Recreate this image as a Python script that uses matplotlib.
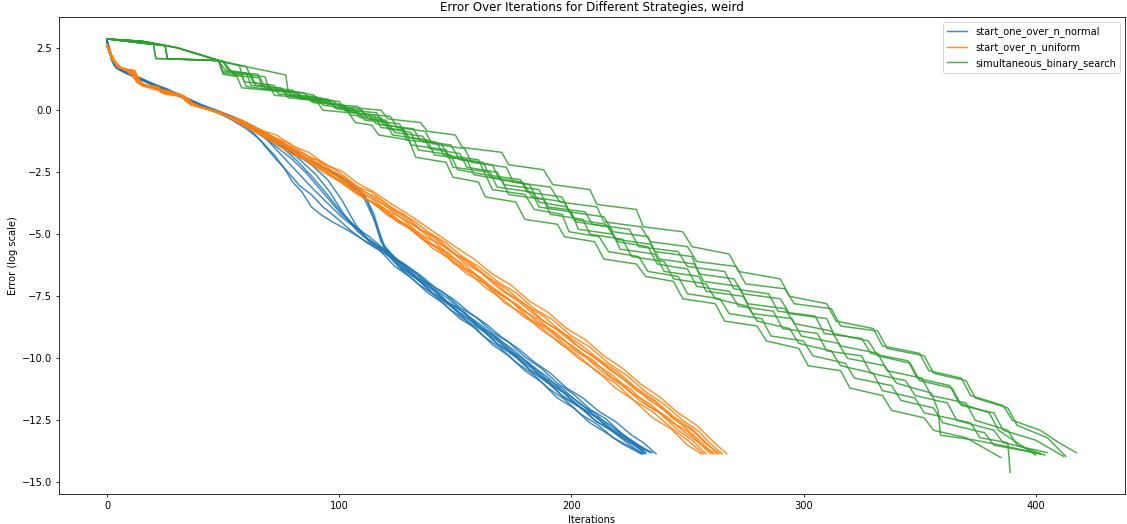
import matplotlib.pyplot as plt

# (iteration, error) pairs for each run
normal_runs = [
    [(0,2.8),(1,2.4),(2,2.0),(4,1.7),(8,1.5),(13,1.3),(19,1.05),(26,0.8),(33,0.5),(40,0.2),(47,-0.05),(53,-0.35),(60,-0.75),(66,-1.2),(72,-1.8),(76,-2.3),(80,-2.9),(84,-3.3),(88,-3.9),(92,-4.2),(97,-4.5),(103,-4.8),(110,-5.2),(117,-5.6),(124,-6.3),(131,-6.75),(138,-7.35),(145,-7.8),(152,-8.4),(159,-8.8),(166,-9.45),(173,-9.9),(180,-10.5),(187,-10.95),(194,-11.6),(201,-12.0),(208,-12.6),(215,-13.0),(222,-13.45),(230,-13.85)],
    [(0,2.8),(1,2.5),(2,2.1),(3,1.8),(6,1.6),(11,1.4),(17,1.15),(24,0.85),(31,0.6),(38,0.3),(45,0.0),(52,-0.25),(59,-0.6),(64,-1.0),(68,-1.45),(73,-2.0),(78,-2.5),(83,-3.05),(88,-3.4),(93,-3.9),(99,-4.35),(105,-4.85),(112,-5.35),(119,-5.75),(126,-6.15),(133,-6.6),(140,-7.15),(147,-7.6),(154,-8.2),(161,-8.65),(168,-9.2),(175,-9.65),(182,-10.25),(189,-10.7),(196,-11.3),(203,-11.75),(210,-12.3),(217,-12.7),(224,-13.2),(233.5,-13.75)],
    [(0,2.75),(1,2.4),(3,1.9),(5,1.65),(9,1.45),(14,1.25),(20,1.0),(27,0.75),(34,0.45),(41,0.15),(48,-0.1),(55,-0.4),(62,-0.75),(70,-1.15),(76,-1.55),(82,-2.05),(88,-2.65),(94,-3.3),(100,-4.0),(106,-4.6),(112,-5.15),(119,-5.6),(126,-6.3),(133,-6.7),(140,-7.35),(147,-7.75),(154,-8.35),(161,-8.75),(168,-9.4),(175,-9.8),(182,-10.45),(189,-10.85),(196,-11.5),(203,-11.9),(210,-12.5),(217,-12.9),(224,-13.4),(230.5,-13.85)],
    [(0,2.8),(1,2.45),(2,2.05),(5,1.7),(9,1.5),(15,1.25),(21,1.0),(28,0.72),(35,0.42),(42,0.12),(49,-0.12),(57,-0.45),(64,-0.8),(70,-1.1),(75,-1.4),(82,-1.9),(90,-2.6),(96,-3.3),(102,-4.2),(108,-4.9),(114,-5.35),(121,-5.8),(128,-6.2),(135,-6.65),(142,-7.2),(149,-7.6),(156,-8.15),(163,-8.6),(170,-9.15),(177,-9.6),(184,-10.15),(191,-10.6),(198,-11.2),(205,-11.6),(212,-12.15),(219,-12.55),(226,-13.1),(231,-13.4),(236.5,-13.85)],
    [(0,2.8),(1,2.35),(3,1.95),(6,1.65),(10,1.45),(16,1.2),(23,0.9),(30,0.6),(37,0.35),(44,0.05),(51,-0.2),(58,-0.5),(65,-0.85),(72,-1.25),(80,-1.7),(88,-2.2),(95,-2.8),(101,-3.6),(107,-4.6),(113,-5.3),(120,-5.7),(127,-6.3),(134,-6.85),(141,-7.3),(148,-7.9),(155,-8.35),(162,-8.9),(169,-9.35),(176,-9.95),(183,-10.4),(190,-11.0),(197,-11.4),(204,-12.0),(211,-12.4),(218,-12.95),(225,-13.35),(231,-13.8)],
    [(0,2.8),(1,2.5),(2,2.15),(4,1.8),(8,1.55),(13,1.35),(19,1.1),(26,0.85),(33,0.55),(40,0.25),(47,0.0),(54,-0.25),(61,-0.55),(68,-0.9),(75,-1.3),(82,-1.75),(90,-2.15),(97,-2.5),(103,-2.85),(108,-3.2),(112,-3.6),(115,-4.4),(118,-5.3),(124,-5.95),(131,-6.4),(138,-6.95),(145,-7.35),(152,-7.95),(159,-8.35),(166,-8.95),(173,-9.35),(180,-9.95),(187,-10.4),(194,-11.0),(201,-11.45),(208,-12.05),(215,-12.45),(222,-13.05),(228,-13.45),(232,-13.8)],
    [(0,2.75),(1,2.4),(3,2.0),(5,1.75),(9,1.5),(14,1.3),(20,1.05),(27,0.8),(34,0.5),(41,0.2),(48,-0.05),(55,-0.3),(62,-0.6),(70,-1.0),(78,-1.45),(86,-1.95),(94,-2.35),(101,-2.7),(106,-3.0),(111,-3.45),(115,-4.2),(119,-5.5),(125,-6.05),(132,-6.65),(139,-7.1),(146,-7.7),(153,-8.1),(160,-8.7),(167,-9.15),(174,-9.75),(181,-10.2),(188,-10.8),(195,-11.25),(202,-11.85),(209,-12.25),(216,-12.8),(223,-13.2),(229,-13.55),(234,-13.8)],
    [(0,2.8),(1,2.45),(2,2.0),(4,1.75),(7,1.55),(12,1.35),(18,1.1),(25,0.82),(32,0.52),(39,0.22),(46,-0.02),(53,-0.3),(60,-0.65),(67,-1.0),(74,-1.35),(81,-1.7),(89,-2.1),(96,-2.45),(102,-2.8),(107,-3.2),(111,-3.6),(116,-4.6),(120,-5.6),(126,-6.1),(133,-6.7),(140,-7.15),(147,-7.75),(154,-8.15),(161,-8.75),(168,-9.15),(175,-9.75),(182,-10.2),(189,-10.8),(196,-11.2),(203,-11.8),(210,-12.2),(217,-12.8),(224,-13.2),(232,-13.85)],
    [(0,2.8),(1,2.4),(2,2.05),(4,1.7),(8,1.5),(13,1.3),(19,1.05),(26,0.78),(33,0.48),(40,0.18),(47,-0.08),(54,-0.38),(61,-0.7),(68,-1.1),(74,-1.55),(80,-2.0),(86,-2.55),(91,-3.1),(96,-3.65),(101,-4.2),(107,-4.7),(113,-5.1),(120,-5.65),(127,-6.4),(134,-6.85),(141,-7.45),(148,-7.9),(155,-8.5),(162,-8.9),(169,-9.5),(176,-9.95),(183,-10.55),(190,-11.0),(197,-11.6),(204,-12.0),(211,-12.55),(218,-12.95),(225,-13.4),(230,-13.6),(235,-13.8)],
    [(0,2.8),(1,2.45),(3,1.95),(6,1.65),(10,1.45),(15,1.25),(21,1.0),(28,0.7),(35,0.4),(42,0.1),(49,-0.15),(56,-0.45),(63,-0.8),(69,-1.2),(74,-1.7),(79,-2.2),(84,-2.7),(89,-3.2),(95,-3.75),(101,-4.3),(107,-4.75),(113,-5.25),(120,-5.75),(127,-6.45),(134,-7.0),(141,-7.45),(148,-8.05),(155,-8.5),(162,-9.1),(169,-9.55),(176,-10.15),(183,-10.6),(190,-11.2),(197,-11.65),(204,-12.25),(211,-12.65),(218,-13.2),(224,-13.5),(231,-13.85)],
]

uniform_runs = [
    [(0,2.6),(1,2.3),(3,1.95),(5,1.7),(10,1.62),(12,1.25),(15,1.0),(21,0.95),(23,0.72),(29,0.68),(34,0.5),(37,0.22),(44,0.05),(51,-0.2),(60,-0.65),(68,-1.05),(74,-1.3),(82,-1.8),(88,-2.05),(96,-2.6),(103,-2.95),(110,-3.5),(117,-3.85),(125,-4.5),(132,-4.85),(140,-5.55),(147,-5.95),(155,-6.6),(163,-7.0),(171,-7.75),(179,-8.2),(187,-8.85),(195,-9.35),(203,-10.0),(211,-10.5),(219,-11.2),(227,-11.7),(235,-12.4),(243,-12.85),(250,-13.5),(256,-13.85)],
    [(0,2.55),(1,2.35),(3,2.0),(6,1.7),(9,1.55),(11,1.4),(13,1.1),(18,0.95),(22,0.9),(24,0.7),(31,0.65),(35,0.35),(40,0.15),(47,-0.05),(55,-0.35),(58,-0.45),(65,-0.75),(72,-1.1),(79,-1.35),(86,-1.85),(93,-2.1),(100,-2.5),(107,-3.05),(114,-3.3),(121,-3.85),(128,-4.2),(135,-4.8),(142,-5.15),(150,-5.8),(157,-6.25),(165,-6.8),(172,-7.35),(180,-7.8),(188,-8.5),(196,-8.95),(204,-9.6),(212,-10.1),(220,-10.65),(228,-11.3),(236,-11.75),(244,-12.45),(252,-12.9),(258,-13.45),(264,-13.85)],
    [(0,2.6),(1,2.45),(2,2.1),(4,1.85),(7,1.65),(12,1.6),(14,1.2),(16,1.0),(19,0.85),(24,0.8),(26,0.62),(33,0.58),(36,0.3),(41,0.1),(49,-0.1),(57,-0.5),(64,-0.85),(71,-1.15),(78,-1.55),(85,-1.9),(92,-2.35),(99,-2.65),(106,-3.2),(113,-3.5),(120,-4.0),(127,-4.35),(134,-4.95),(141,-5.3),(148,-5.9),(155,-6.3),(162,-6.9),(170,-7.4),(178,-8.0),(186,-8.45),(194,-9.1),(202,-9.6),(210,-10.2),(218,-10.7),(226,-11.4),(234,-11.85),(242,-12.5),(250,-12.95),(256,-13.5),(262,-13.85)],
    [(0,2.65),(1,2.4),(2,2.2),(4,1.9),(6,1.7),(8,1.65),(10,1.45),(12,1.3),(14,1.05),(17,0.95),(21,0.92),(23,0.75),(27,0.72),(32,0.62),(34,0.35),(39,0.15),(45,0.0),(52,-0.25),(60,-0.7),(67,-1.0),(74,-1.45),(81,-1.7),(88,-2.2),(95,-2.5),(102,-3.0),(109,-3.4),(116,-3.85),(123,-4.3),(130,-4.75),(137,-5.25),(144,-5.65),(151,-6.2),(158,-6.6),(166,-7.25),(174,-7.7),(182,-8.4),(190,-8.85),(198,-9.5),(206,-9.95),(214,-10.6),(222,-11.1),(230,-11.75),(238,-12.2),(246,-12.9),(252,-13.3),(258,-13.85)],
    [(0,2.6),(1,2.3),(2,2.05),(5,1.75),(8,1.6),(12,1.55),(13,1.15),(17,1.0),(22,0.95),(24,0.68),(30,0.62),(35,0.45),(38,0.18),(44,0.0),(50,-0.15),(58,-0.4),(66,-0.8),(73,-1.0),(80,-1.45),(87,-1.7),(94,-2.2),(101,-2.45),(108,-2.95),(115,-3.3),(122,-3.75),(129,-4.15),(136,-4.6),(143,-5.05),(150,-5.5),(158,-6.0),(166,-6.6),(174,-7.05),(182,-7.7),(190,-8.15),(198,-8.8),(206,-9.25),(214,-9.9),(222,-10.4),(230,-11.05),(238,-11.55),(246,-12.2),(254,-12.7),(261,-13.35),(267,-13.85)],
    [(0,2.55),(1,2.35),(3,2.0),(5,1.75),(9,1.62),(11,1.5),(13,1.2),(15,0.98),(20,0.92),(22,0.8),(28,0.75),(32,0.52),(35,0.3),(41,0.1),(48,-0.1),(56,-0.45),(63,-0.8),(70,-1.2),(77,-1.45),(84,-1.95),(91,-2.25),(98,-2.75),(105,-3.1),(112,-3.6),(119,-3.95),(126,-4.45),(133,-4.85),(140,-5.4),(147,-5.75),(154,-6.35),(161,-6.75),(169,-7.4),(177,-7.85),(185,-8.5),(193,-8.95),(201,-9.6),(209,-10.05),(217,-10.75),(225,-11.2),(233,-11.9),(241,-12.35),(249,-13.0),(255,-13.4),(260,-13.85)],
    [(0,2.6),(1,2.4),(2,2.15),(4,1.85),(6,1.68),(10,1.62),(11,1.35),(14,1.1),(16,0.95),(22,0.92),(25,0.7),(30,0.65),(33,0.5),(36,0.2),(43,0.05),(50,-0.2),(57,-0.4),(64,-0.8),(71,-1.05),(78,-1.5),(85,-1.75),(92,-2.25),(99,-2.55),(106,-3.05),(113,-3.4),(120,-3.85),(127,-4.25),(134,-4.75),(141,-5.15),(148,-5.7),(156,-6.1),(164,-6.75),(172,-7.2),(180,-7.85),(188,-8.3),(196,-8.95),(204,-9.45),(212,-10.05),(220,-10.55),(228,-11.2),(236,-11.7),(244,-12.35),(252,-12.85),(258,-13.4),(263,-13.85)],
    [(0,2.6),(1,2.35),(2,2.1),(4,1.8),(7,1.65),(11,1.62),(13,1.25),(16,1.0),(20,0.9),(23,0.85),(25,0.65),(31,0.62),(34,0.4),(37,0.25),(42,0.08),(49,-0.12),(58,-0.55),(65,-0.95),(72,-1.3),(79,-1.75),(86,-2.0),(93,-2.5),(100,-2.85),(107,-3.35),(114,-3.7),(121,-4.25),(128,-4.6),(135,-5.15),(142,-5.55),(149,-6.15),(156,-6.55),(163,-7.15),(171,-7.65),(179,-8.3),(187,-8.75),(195,-9.4),(203,-9.9),(211,-10.55),(219,-11.0),(227,-11.7),(235,-12.15),(243,-12.8),(250,-13.3),(257,-13.85)],
    [(0,2.65),(1,2.45),(2,2.2),(4,1.85),(6,1.7),(9,1.58),(12,1.45),(14,1.1),(18,0.98),(21,0.85),(26,0.78),(28,0.6),(33,0.55),(36,0.28),(42,0.08),(49,-0.1),(56,-0.4),(63,-0.7),(70,-1.1),(77,-1.4),(84,-1.85),(91,-2.15),(98,-2.6),(105,-3.0),(112,-3.45),(119,-3.8),(126,-4.3),(133,-4.7),(140,-5.2),(147,-5.6),(154,-6.15),(161,-6.55),(169,-7.2),(177,-7.7),(185,-8.3),(193,-8.8),(201,-9.4),(209,-9.9),(217,-10.5),(225,-11.0),(233,-11.65),(241,-12.15),(249,-12.8),(255,-13.3),(261,-13.85)],
    [(0,2.6),(1,2.3),(3,1.95),(5,1.72),(8,1.62),(11,1.58),(12,1.3),(15,1.05),(20,0.95),(22,0.82),(26,0.78),(29,0.68),(33,0.6),(35,0.38),(40,0.12),(47,-0.05),(55,-0.35),(62,-0.65),(69,-1.0),(76,-1.3),(83,-1.7),(90,-2.0),(97,-2.45),(104,-2.8),(111,-3.3),(118,-3.6),(125,-4.1),(132,-4.45),(139,-4.95),(146,-5.35),(153,-5.9),(160,-6.3),(168,-6.9),(176,-7.35),(184,-8.0),(192,-8.45),(200,-9.1),(208,-9.55),(216,-10.2),(224,-10.7),(232,-11.35),(240,-11.85),(248,-12.5),(255,-12.95),(260,-13.45),(265,-13.85)],
]

binary_runs = [
    [(0,2.87),(15,2.78),(30,2.52),(50,1.95),(77,1.42),(78,0.75),(89,0.62),(91,0.35),(103,0.15),(105,-0.1),(113,-0.2),(116,-0.55),(127,-0.7),(130,-1.1),(142,-1.3),(145,-1.8),(160,-2.0),(163,-2.6),(178,-2.8),(181,-3.3),(196,-3.5),(199,-4.1),(214,-4.3),(218,-4.9),(233,-5.1),(236,-5.7),(252,-5.9),(255,-6.6),(270,-6.8),(274,-7.4),(290,-7.6),(294,-8.2),(310,-8.4),(313,-9.0),(328,-9.3),(332,-9.9),(346,-10.2),(350,-10.9),(364,-11.2),(368,-11.9),(382,-12.2),(386,-12.9),(400,-13.3),(412,-13.95)],
    [(0,2.87),(20,2.65),(21,2.08),(36,2.05),(50,1.98),(52,1.6),(62,1.45),(64,1.0),(80,0.8),(84,0.5),(97,0.4),(100,0.15),(118,0.0),(121,-0.35),(135,-0.5),(138,-0.85),(150,-1.0),(153,-1.5),(170,-1.7),(173,-2.2),(188,-2.4),(192,-3.0),(208,-3.2),(211,-3.8),(228,-4.0),(231,-4.7),(248,-4.9),(252,-5.5),(268,-5.8),(272,-6.5),(290,-6.8),(294,-7.5),(310,-7.8),(314,-8.5),(330,-8.8),(334,-9.5),(350,-9.8),(354,-10.5),(368,-10.8),(372,-11.5),(386,-11.9),(390,-12.5),(402,-12.9),(410,-13.4),(417.5,-13.8)],
    [(0,2.87),(25,2.6),(26,2.07),(48,2.0),(50,1.5),(58,1.4),(60,0.95),(78,0.75),(80,0.55),(95,0.45),(98,0.1),(110,0.0),(112,-0.35),(120,-0.45),(123,-1.0),(138,-1.2),(141,-1.8),(155,-2.0),(158,-2.6),(170,-2.8),(173,-3.4),(188,-3.6),(191,-4.2),(205,-4.4),(208,-5.0),(222,-5.2),(226,-5.9),(240,-6.1),(244,-6.8),(258,-7.0),(262,-7.6),(276,-7.9),(280,-8.5),(294,-8.8),(298,-9.4),(312,-9.7),(316,-10.3),(330,-10.6),(334,-11.3),(348,-11.6),(352,-12.2),(372,-12.6),(376,-13.2),(388,-13.4),(389,-14.6)],
    [(0,2.87),(15,2.78),(30,2.52),(50,1.95),(55,1.4),(66,1.3),(68,0.9),(85,0.7),(88,0.35),(100,0.25),(103,-0.05),(115,-0.2),(118,-0.7),(128,-0.8),(131,-1.4),(146,-1.6),(149,-2.3),(165,-2.5),(168,-3.1),(183,-3.3),(186,-3.9),(200,-4.1),(203,-4.8),(218,-5.0),(221,-5.6),(236,-5.8),(240,-6.5),(255,-6.7),(258,-7.3),(274,-7.5),(278,-8.2),(295,-8.4),(299,-9.1),(315,-9.4),(319,-10.0),(335,-10.3),(340,-11.0),(355,-11.4),(358,-12.1),(359,-13.1),(374,-13.3),(390,-13.6),(402,-13.85)],
    [(0,2.87),(15,2.78),(30,2.52),(50,1.95),(57,1.8),(59,1.15),(72,1.0),(74,0.65),(90,0.55),(93,0.2),(106,0.05),(109,-0.3),(120,-0.4),(124,-0.9),(136,-1.05),(139,-1.55),(152,-1.75),(155,-2.3),(168,-2.5),(171,-3.0),(186,-3.2),(190,-3.9),(206,-4.1),(209,-4.6),(225,-4.8),(229,-5.5),(246,-5.7),(250,-6.3),(266,-6.5),(270,-7.2),(285,-7.4),(289,-8.1),(305,-8.3),(309,-9.0),(325,-9.2),(329,-9.8),(345,-10.1),(349,-10.8),(363,-11.1),(367,-11.8),(380,-12.2),(384,-12.9),(400,-13.9)],
    [(0,2.87),(25,2.6),(26,2.07),(48,2.0),(50,1.55),(65,1.45),(67,0.85),(82,0.7),(85,0.45),(100,0.35),(103,0.0),(116,-0.1),(119,-0.6),(132,-0.75),(135,-1.25),(148,-1.4),(152,-2.0),(166,-2.2),(169,-2.8),(182,-3.0),(186,-3.7),(198,-3.9),(202,-4.5),(216,-4.7),(220,-5.3),(233,-5.5),(237,-6.2),(250,-6.4),(254,-7.1),(268,-7.3),(272,-7.9),(287,-8.1),(291,-8.8),(306,-9.0),(310,-9.7),(325,-9.9),(329,-10.6),(344,-10.9),(348,-11.5),(362,-11.8),(366,-12.5),(382,-12.9),(386,-13.4),(405,-13.8)],
    [(0,2.87),(15,2.78),(30,2.52),(50,1.95),(54,1.5),(68,1.35),(70,0.8),(80,0.7),(83,0.45),(96,0.35),(99,0.05),(108,-0.05),(111,-0.4),(126,-0.55),(129,-1.2),(144,-1.35),(147,-1.9),(162,-2.1),(165,-2.7),(179,-2.9),(183,-3.5),(197,-3.7),(201,-4.4),(215,-4.6),(219,-5.2),(234,-5.4),(238,-6.0),(253,-6.2),(257,-6.9),(272,-7.1),(276,-7.8),(292,-8.0),(296,-8.6),(312,-8.9),(316,-9.5),(332,-9.8),(336,-10.5),(351,-10.8),(355,-11.5),(370,-11.8),(374,-12.5),(388,-12.9),(392,-13.5),(404,-13.9)],
    [(0,2.87),(25,2.6),(26,2.07),(48,2.0),(51,1.6),(60,1.5),(62,1.0),(75,0.9),(78,0.6),(92,0.5),(95,0.25),(108,0.15),(111,-0.15),(122,-0.25),(125,-0.7),(137,-0.85),(140,-1.35),(154,-1.55),(157,-2.1),(172,-2.3),(175,-2.9),(191,-3.1),(195,-3.7),(211,-3.9),(214,-4.5),(230,-4.7),(234,-5.3),(250,-5.5),(254,-6.1),(271,-6.3),(275,-7.0),(292,-7.2),(296,-7.8),(312,-8.0),(316,-8.7),(332,-8.9),(336,-9.6),(352,-9.9),(356,-10.6),(370,-10.9),(374,-11.6),(388,-12.0),(392,-12.7),(405,-13.2),(413,-13.95)],
    [(0,2.87),(15,2.78),(30,2.52),(50,1.95),(60,1.75),(63,1.1),(70,1.0),(72,0.6),(86,0.5),(89,0.3),(102,0.2),(105,-0.2),(118,-0.3),(121,-0.75),(131,-0.9),(134,-1.6),(148,-1.8),(151,-2.4),(163,-2.6),(166,-3.2),(180,-3.4),(184,-4.0),(196,-4.2),(199,-4.9),(212,-5.1),(216,-5.7),(229,-5.9),(233,-6.5),(246,-6.7),(250,-7.4),(264,-7.6),(268,-8.2),(282,-8.4),(286,-9.1),(300,-9.3),(304,-9.9),(318,-10.2),(322,-10.8),(338,-11.1),(342,-11.7),(356,-12.0),(360,-12.6),(378,-13.0),(382,-13.5),(402,-13.85)],
    [(0,2.87),(20,2.65),(21,2.08),(48,2.0),(50,1.45),(56,1.35),(58,0.9),(76,0.75),(78,0.5),(90,0.4),(93,0.0),(104,-0.1),(107,-0.5),(114,-0.6),(117,-1.0),(130,-1.2),(133,-1.9),(146,-2.1),(149,-2.7),(160,-2.9),(163,-3.5),(176,-3.7),(180,-4.4),(194,-4.6),(197,-5.1),(210,-5.3),(214,-6.0),(228,-6.2),(232,-6.7),(244,-6.9),(248,-7.6),(262,-7.8),(266,-8.5),(280,-8.7),(284,-9.3),(298,-9.6),(302,-10.3),(316,-10.5),(320,-11.2),(334,-11.5),(338,-12.1),(352,-12.4),(356,-12.9),(370,-13.2),(385,-14.0)],
]

strategies = ["start_one_over_n_normal", "start_over_n_uniform", "simultaneous_binary_search"]
colors = ["tab:blue", "tab:orange", "tab:green"]

fig, ax = plt.subplots(figsize=(1127 / 71, 524 / 71), dpi=71)

for name, runs, col in zip(strategies, [normal_runs, uniform_runs, binary_runs], colors):
    for i, run in enumerate(runs):
        xs = [p[0] for p in run]
        ys = [p[1] for p in run]
        ax.plot(xs, ys, color=col, alpha=0.85, linewidth=1.5,
                label=name if i == 0 else None)

ax.set_title("Error Over Iterations for Different Strategies, weird")
ax.set_xlabel("Iterations")
ax.set_ylabel("Error (log scale)")
ax.legend(loc="upper right")

plt.subplots_adjust(left=0.052, right=0.998, top=0.967, bottom=0.057)
plt.savefig("out.png", dpi=71)
